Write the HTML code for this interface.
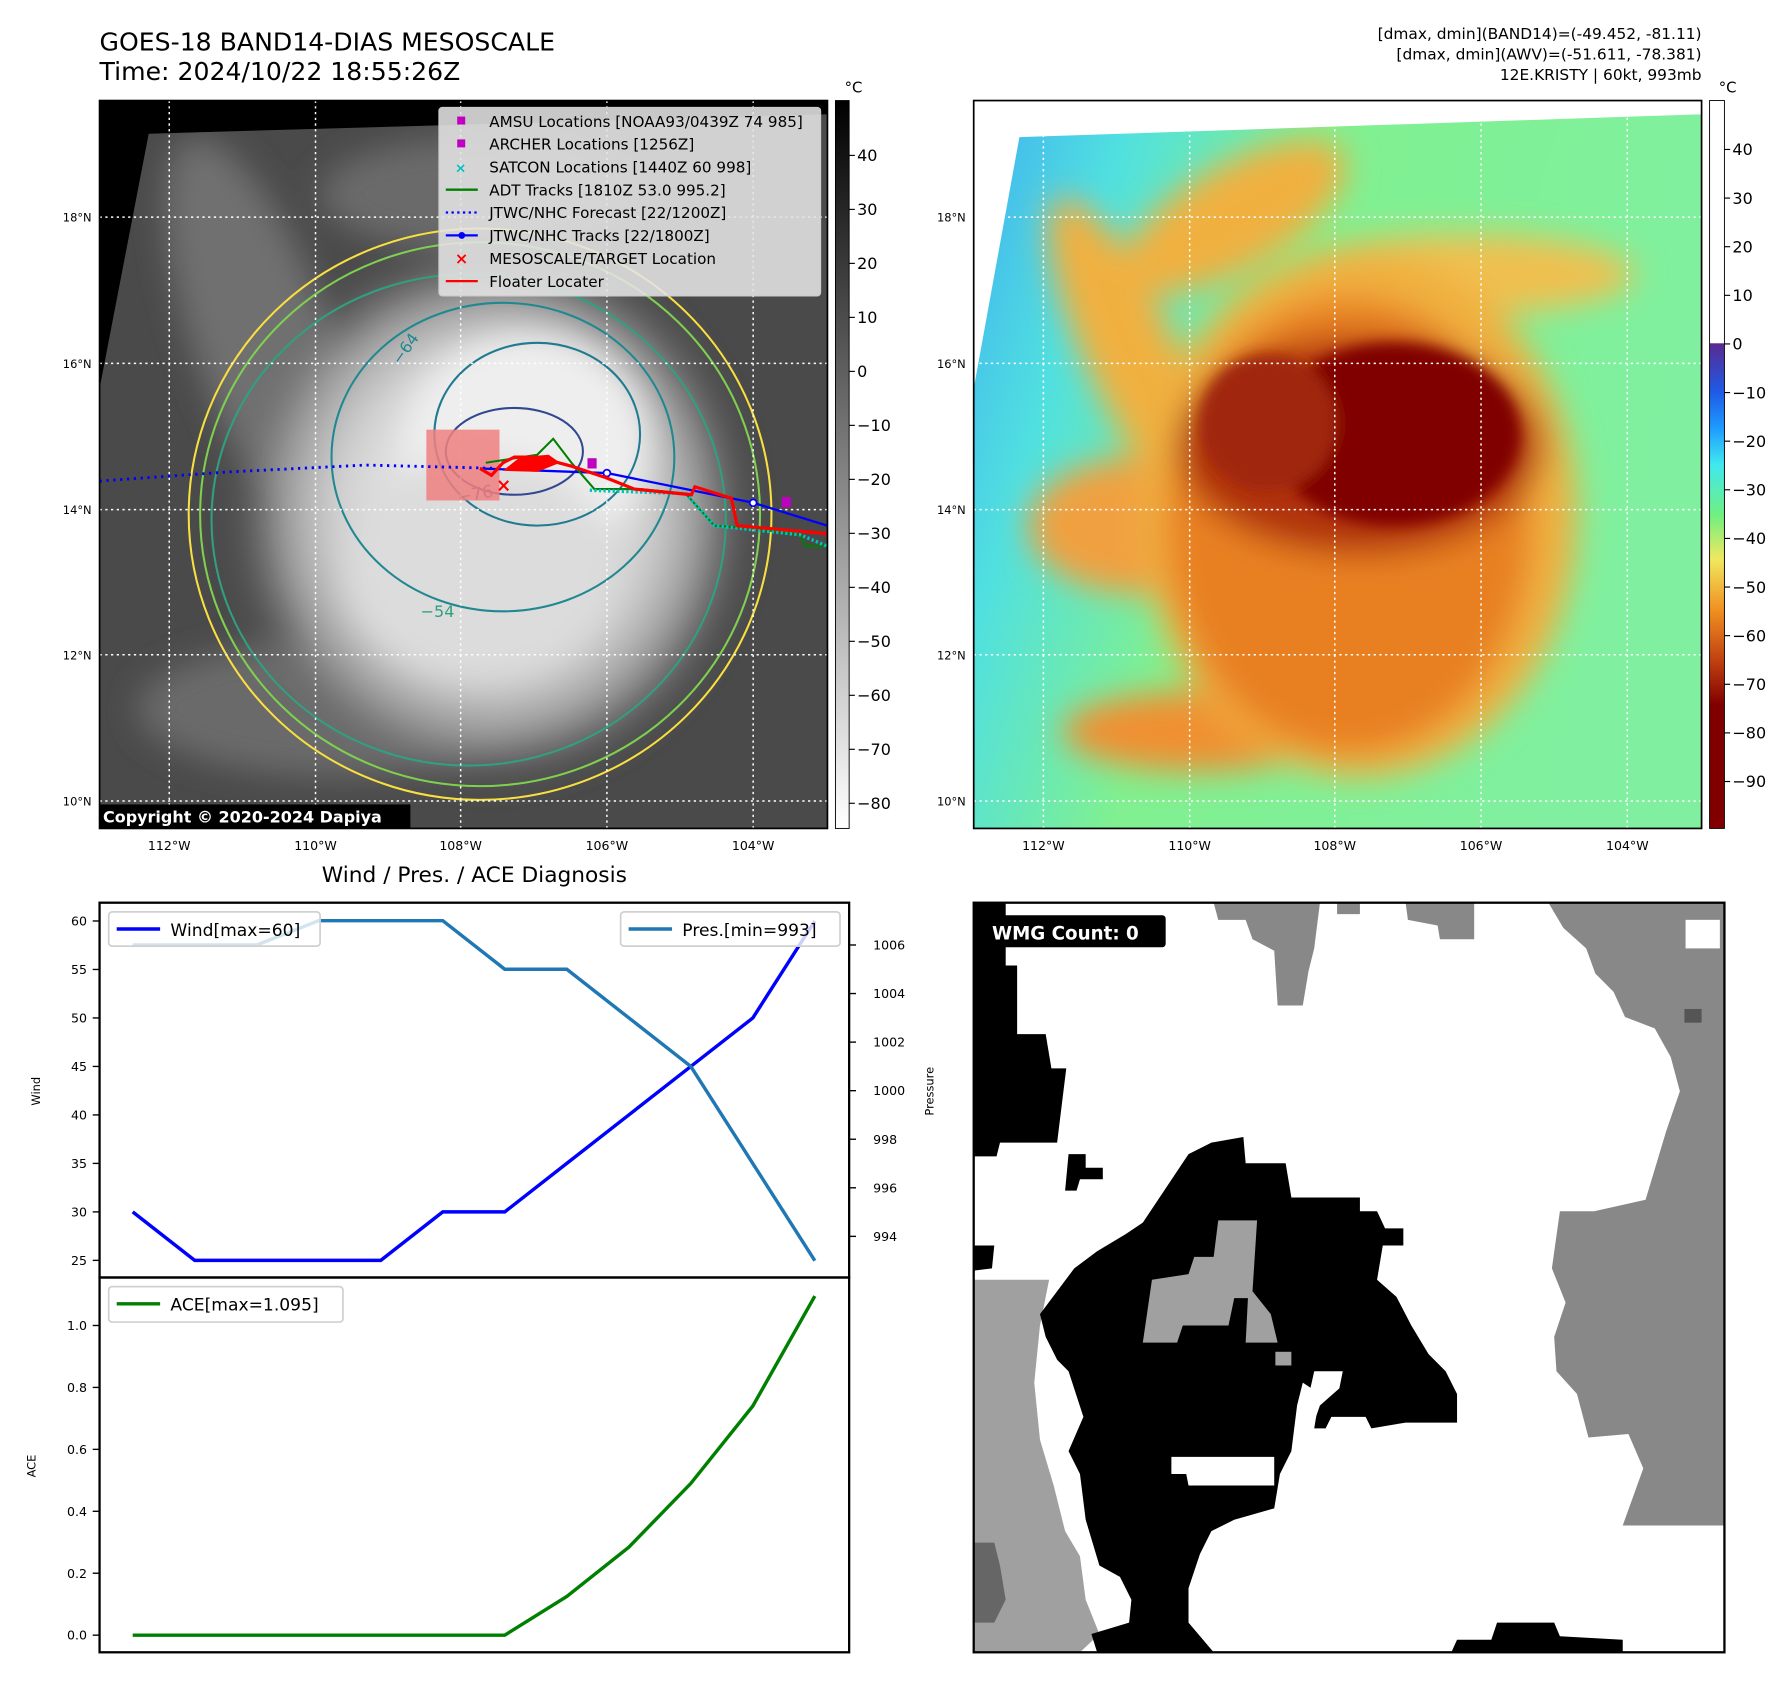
<!DOCTYPE html>
<html><head><meta charset="utf-8">
<style>
html,body{margin:0;padding:0;background:#fff;}
svg{display:block;font-family:"DejaVu Sans","Liberation Sans",sans-serif;}
</style></head>
<body>
<svg id="fig" width="1792" height="1690" viewBox="0 0 1568 1479" xmlns="http://www.w3.org/2000/svg">
<defs>
  <filter id="blur6"><feGaussianBlur stdDeviation="6"/></filter>
  <filter id="blur14"><feGaussianBlur stdDeviation="14"/></filter>
  <clipPath id="clipL"><rect x="87" y="88" width="637" height="637"/></clipPath>
  <clipPath id="clipLs"><polygon points="130,117 724,100 724,725 87,725 87,340"/></clipPath>
  <clipPath id="clipR"><rect x="852" y="88" width="637" height="637"/></clipPath>
  <clipPath id="clipRs"><polygon points="892,120 1489,100 1489,725 852,725 852,340"/></clipPath>
  <clipPath id="clipW"><rect x="852" y="790" width="657" height="656"/></clipPath>
  <radialGradient id="storm" cx="0.5" cy="0.5" r="0.5">
    <stop offset="0" stop-color="#f4f4f4"/><stop offset="0.35" stop-color="#e6e6e6"/>
    <stop offset="0.6" stop-color="#cfcfcf"/><stop offset="0.8" stop-color="#9a9a9a"/>
    <stop offset="1" stop-color="#5a5a5a" stop-opacity="0"/>
  </radialGradient>
  <linearGradient id="cbGray" x1="0" y1="0" x2="0" y2="1">
    <stop offset="0" stop-color="#000"/><stop offset="1" stop-color="#fff"/>
  </linearGradient>
  <linearGradient id="cbColor" x1="0" y1="0" x2="0" y2="1">
    <stop offset="0" stop-color="#fff"/><stop offset="0.333" stop-color="#fff"/>
    <stop offset="0.334" stop-color="#5a2a90"/><stop offset="0.4" stop-color="#1e5ae6"/>
    <stop offset="0.45" stop-color="#1e9bff"/><stop offset="0.5" stop-color="#40e8f0"/>
    <stop offset="0.57" stop-color="#70f080"/><stop offset="0.63" stop-color="#f0e860"/>
    <stop offset="0.7" stop-color="#f09020"/><stop offset="0.77" stop-color="#c04010"/>
    <stop offset="0.83" stop-color="#800000"/><stop offset="1" stop-color="#800000"/>
  </linearGradient>
  <linearGradient id="rbg" x1="0" y1="0" x2="1" y2="0.3">
    <stop offset="0" stop-color="#40b0f0"/><stop offset="0.2" stop-color="#50e0e0"/>
    <stop offset="0.45" stop-color="#80f090"/><stop offset="1" stop-color="#80f0a0"/>
  </linearGradient>
</defs>

<!-- Titles -->
<text x="87" y="44" font-size="22">GOES-18 BAND14-DIAS MESOSCALE</text>
<text x="87" y="70" font-size="22">Time: 2024/10/22 18:55:26Z</text>
<g font-size="13.5" text-anchor="end">
  <text x="1489" y="34">[dmax, dmin](BAND14)=(-49.452, -81.11)</text>
  <text x="1489" y="52">[dmax, dmin](AWV)=(-51.611, -78.381)</text>
  <text x="1489" y="70">12E.KRISTY | 60kt, 993mb</text>
</g>

<!-- LEFT MAP -->
<g clip-path="url(#clipL)">
  <rect x="87" y="88" width="637" height="637" fill="#000"/>
  <g clip-path="url(#clipLs)">
  <rect x="87" y="88" width="637" height="637" fill="#4a4a4a"/>
  <g filter="url(#blur14)">
    <ellipse cx="230" cy="300" rx="60" ry="190" fill="#707070" transform="rotate(-20 230 300)"/>
    <ellipse cx="420" cy="170" rx="140" ry="50" fill="#6a6a6a"/>
    <ellipse cx="300" cy="620" rx="180" ry="60" fill="#6a6a6a"/>
    <ellipse cx="430" cy="450" rx="230" ry="240" fill="url(#storm)"/>
    <ellipse cx="460" cy="390" rx="110" ry="100" fill="#eeeeee"/>
    <ellipse cx="420" cy="500" rx="120" ry="100" fill="#dcdcdc"/>
  </g>
  </g>
  <g fill="none" stroke-width="1.8">
    <ellipse cx="420" cy="450" rx="255" ry="250" stroke="#f8e040" />
    <ellipse cx="420" cy="450" rx="245" ry="238" stroke="#80d050"/>
    <ellipse cx="410" cy="455" rx="225" ry="215" stroke="#30a080"/>
    <ellipse cx="440" cy="400" rx="150" ry="135" stroke="#208890"/>
    <ellipse cx="470" cy="380" rx="90" ry="80" stroke="#207a90"/>
    <ellipse cx="450" cy="395" rx="60" ry="38" stroke="#304890"/>
  </g>
  <text x="400" y="428" font-size="15" fill="#304890" transform="rotate(-10 470 428)">−76</text>
  <text x="368" y="540" font-size="14" fill="#30a080">−54</text>
  <text x="350" y="320" font-size="14" fill="#208890" transform="rotate(-55 350 320)">−64</text>
  <g stroke="#fff" stroke-width="1.3" stroke-dasharray="2,3">
    <line x1="87" y1="190" x2="724" y2="190"/><line x1="87" y1="318" x2="724" y2="318"/>
    <line x1="87" y1="446" x2="724" y2="446"/><line x1="87" y1="573" x2="724" y2="573"/>
    <line x1="87" y1="701" x2="724" y2="701"/>
    <line x1="148" y1="88" x2="148" y2="725"/><line x1="276" y1="88" x2="276" y2="725"/>
    <line x1="403" y1="88" x2="403" y2="725"/><line x1="531" y1="88" x2="531" y2="725"/>
    <line x1="659" y1="88" x2="659" y2="725"/>
  </g>
  <rect x="373" y="376" width="64" height="62" fill="#f08080" opacity="0.85"/>
  <polyline points="87,421 200,413 320,407 440,410" fill="none" stroke="#0000ff" stroke-width="2.5" stroke-dasharray="2,4"/>
  <polyline points="420,410 531,414 659,440 724,460" fill="none" stroke="#0000ff" stroke-width="2"/>
  <g fill="#fff" stroke="#00f" stroke-width="1.5"><circle cx="531" cy="414" r="3"/><circle cx="659" cy="440" r="3"/></g>
  <polyline points="425,405 470,398 484,384 500,405 520,428 560,428 600,432 625,460 655,462 700,468 705,478 724,478" fill="none" stroke="#008000" stroke-width="1.8"/>
  <polyline points="516,429 600,432 625,460 700,468 724,478" fill="none" stroke="#00c0c0" stroke-width="3" stroke-dasharray="2,2"/>
  <polyline points="420,410 430,416 440,405 450,400 470,400 500,408 530,418 555,428 605,433 608,426 640,436 645,460 700,465 724,467" fill="none" stroke="#ff0000" stroke-width="2.8"/>
  <polygon points="440,412 455,400 480,398 490,405 470,413" fill="#ff0000"/>
  <text x="434" y="430" font-size="16" fill="#ff0000" font-weight="bold">×</text>
  <rect x="514" y="401" width="8" height="9" fill="#c000c0"/>
  <rect x="684" y="435" width="8" height="9" fill="#c000c0"/>
</g>
<rect x="87" y="88" width="637" height="637" fill="none" stroke="#000" stroke-width="1.5"/>
<g font-size="13.3">
  <rect x="384" y="94" width="334" height="165" rx="3" fill="#e4e4e4" fill-opacity="0.88" stroke="#ccc"/>
  <rect x="400" y="102" width="7" height="7" fill="#c000c0"/><text x="428" y="111">AMSU Locations [NOAA93/0439Z 74 985]</text>
  <rect x="400" y="122" width="7" height="7" fill="#c000c0"/><text x="428" y="131">ARCHER Locations [1256Z]</text>
  <text x="398" y="151" fill="#00c0c0" font-size="12" font-weight="bold">×</text><text x="428" y="151">SATCON Locations [1440Z 60 998]</text>
  <line x1="390" y1="166" x2="418" y2="166" stroke="#008000" stroke-width="2"/><text x="428" y="171">ADT Tracks [1810Z 53.0 995.2]</text>
  <line x1="390" y1="186" x2="418" y2="186" stroke="#0000ff" stroke-width="2" stroke-dasharray="2,3"/><text x="428" y="191">JTWC/NHC Forecast [22/1200Z]</text>
  <line x1="390" y1="206" x2="418" y2="206" stroke="#0000ff" stroke-width="2"/><circle cx="404" cy="206" r="3" fill="#00f"/><text x="428" y="211">JTWC/NHC Tracks [22/1800Z]</text>
  <text x="398" y="231" fill="#ff0000" font-size="14" font-weight="bold">×</text><text x="428" y="231">MESOSCALE/TARGET Location</text>
  <line x1="390" y1="246" x2="418" y2="246" stroke="#ff0000" stroke-width="2"/><text x="428" y="251">Floater Locater</text>
</g>
<g>
  <rect x="87" y="704" width="272" height="21" fill="#000"/>
  <text x="90" y="720" fill="#fff" font-size="14" font-weight="bold">Copyright © 2020-2024 Dapiya</text>
</g>
<g font-size="10" text-anchor="end">
  <text x="80" y="194">18°N</text><text x="80" y="322">16°N</text><text x="80" y="450">14°N</text><text x="80" y="577">12°N</text><text x="80" y="705">10°N</text>
</g>
<g font-size="11" text-anchor="middle">
  <text x="148" y="744">112°W</text><text x="276" y="744">110°W</text><text x="403" y="744">108°W</text><text x="531" y="744">106°W</text><text x="659" y="744">104°W</text>
</g>
<g>
  <rect x="731" y="88" width="12" height="637" fill="url(#cbGray)" stroke="#000" stroke-width="0.8"/>
  <text x="739" y="81" font-size="13">°C</text>
  <g font-size="14" text-anchor="start" id="cbGrayTicks"></g>
</g>

<!-- RIGHT MAP -->
<g clip-path="url(#clipR)">
  <rect x="852" y="88" width="637" height="637" fill="#fff"/>
  <g clip-path="url(#clipRs)">
  <rect x="852" y="88" width="637" height="637" fill="url(#rbg)"/>
  <g filter="url(#blur14)">
    <ellipse cx="990" cy="310" rx="40" ry="150" fill="#f0b040" transform="rotate(-25 990 310)"/>
    <ellipse cx="1080" cy="190" rx="110" ry="45" fill="#f0b040" transform="rotate(-30 1080 190)"/>
    <ellipse cx="1280" cy="240" rx="150" ry="35" fill="#f0c050"/>
    <ellipse cx="1000" cy="460" rx="100" ry="60" fill="#f0a040"/>
    <ellipse cx="1050" cy="640" rx="120" ry="35" fill="#f09030"/>
    <ellipse cx="1190" cy="450" rx="190" ry="230" fill="#f0b040"/>
    <ellipse cx="1180" cy="460" rx="160" ry="200" fill="#e88020"/>
    <ellipse cx="1190" cy="390" rx="160" ry="95" fill="#b03008"/>
  </g>
  <g filter="url(#blur6)">
    <ellipse cx="1220" cy="380" rx="110" ry="80" fill="#800000"/>
    <ellipse cx="1110" cy="370" rx="60" ry="60" fill="#a02808"/>
  </g>
  </g>
  <g stroke="#fff" stroke-width="1.3" stroke-dasharray="2,3">
    <line x1="852" y1="190" x2="1489" y2="190"/><line x1="852" y1="318" x2="1489" y2="318"/>
    <line x1="852" y1="446" x2="1489" y2="446"/><line x1="852" y1="573" x2="1489" y2="573"/>
    <line x1="852" y1="701" x2="1489" y2="701"/>
    <line x1="913" y1="88" x2="913" y2="725"/><line x1="1041" y1="88" x2="1041" y2="725"/>
    <line x1="1168" y1="88" x2="1168" y2="725"/><line x1="1296" y1="88" x2="1296" y2="725"/>
    <line x1="1424" y1="88" x2="1424" y2="725"/>
  </g>
</g>
<rect x="852" y="88" width="637" height="637" fill="none" stroke="#000" stroke-width="1.5"/>
<g font-size="10" text-anchor="end">
  <text x="845" y="194">18°N</text><text x="845" y="322">16°N</text><text x="845" y="450">14°N</text><text x="845" y="577">12°N</text><text x="845" y="705">10°N</text>
</g>
<g font-size="11" text-anchor="middle">
  <text x="913" y="744">112°W</text><text x="1041" y="744">110°W</text><text x="1168" y="744">108°W</text><text x="1296" y="744">106°W</text><text x="1424" y="744">104°W</text>
</g>
<g>
  <rect x="1496" y="88" width="13" height="637" fill="url(#cbColor)" stroke="#000" stroke-width="0.8"/>
  <text x="1504" y="81" font-size="13">°C</text>
  <g font-size="14" id="cbColorTicks"></g>
</g>

<!-- DIAGNOSIS CHART -->
<text x="415" y="772" font-size="19" text-anchor="middle">Wind / Pres. / ACE Diagnosis</text>
<g id="windPanel"></g>
<g id="acePanel"></g>
<rect x="87" y="790" width="656" height="328" fill="none" stroke="#000" stroke-width="2"/>
<rect x="87" y="1118" width="656" height="328" fill="none" stroke="#000" stroke-width="2"/>
<text x="35" y="955" font-size="10" text-anchor="middle" transform="rotate(-90 35 955)">Wind</text>
<text x="817" y="955" font-size="10" text-anchor="middle" transform="rotate(-90 817 955)">Pressure</text>
<text x="31" y="1283" font-size="10" text-anchor="middle" transform="rotate(-90 31 1283)">ACE</text>
<g>
  <rect x="95" y="798" width="185" height="30" rx="3" fill="#fff" fill-opacity="0.8" stroke="#d0d0d0" stroke-width="1.5"/>
  <line x1="102" y1="813" x2="140" y2="813" stroke="#0000ff" stroke-width="3"/>
  <text x="149" y="819" font-size="15">Wind[max=60]</text>
</g>
<g>
  <rect x="543" y="798" width="192" height="30" rx="3" fill="#fff" fill-opacity="0.8" stroke="#d0d0d0" stroke-width="1.5"/>
  <line x1="550" y1="813" x2="588" y2="813" stroke="#1f77b4" stroke-width="3"/>
  <text x="597" y="819" font-size="15">Pres.[min=993]</text>
</g>
<g>
  <rect x="95" y="1126" width="205" height="31" rx="3" fill="#fff" fill-opacity="0.8" stroke="#d0d0d0" stroke-width="1.5"/>
  <line x1="102" y1="1141" x2="140" y2="1141" stroke="#008000" stroke-width="3"/>
  <text x="149" y="1147" font-size="15">ACE[max=1.095]</text>
</g>

<!-- WMG PANEL -->
<g clip-path="url(#clipW)">
  <rect x="852" y="790" width="657" height="656" fill="#fff"/>
  <polygon fill="#888" points="1355,790 1509,790 1509,1335 1420,1335 1438,1285 1425,1255 1390,1258 1380,1220 1362,1200 1360,1170 1370,1140 1358,1110 1365,1060 1395,1060 1440,1050 1458,990 1470,955 1462,925 1448,900 1422,890 1412,868 1396,852 1388,830 1368,812"/>
  <rect x="1475" y="805" width="30" height="25" fill="#fff"/>
  <rect x="1474" y="883" width="15" height="12" fill="#555"/>
  <polygon fill="#888" points="1062,790 1155,790 1150,830 1145,850 1140,880 1118,880 1115,832 1096,822 1090,805 1066,805"/>
  <polygon fill="#888" points="1170,790 1190,790 1190,800 1170,800"/>
  <polygon fill="#888" points="1230,790 1290,790 1290,822 1260,822 1258,810 1232,805"/>
  <polygon fill="#000" points="852,790 880,790 880,845 890,845 890,905 915,905 920,935 933,935 925,1000 875,1000 872,1012 852,1012"/>
  <polygon fill="#000" points="935,1010 950,1010 950,1022 965,1022 965,1032 945,1032 942,1042 932,1042"/>
  <polygon fill="#a0a0a0" points="852,1120 918,1120 910,1160 905,1210 910,1260 922,1300 932,1340 945,1362 950,1400 962,1430 945,1446 852,1446"/>
  <polygon fill="#000" points="1060,1000 1088,995 1090,1018 1125,1018 1130,1048 1190,1048 1190,1060 1205,1060 1212,1075 1228,1075 1228,1090 1210,1090 1205,1120 1222,1135 1235,1160 1250,1185 1265,1200 1275,1220 1275,1245 1230,1245 1200,1250 1195,1240 1165,1240 1160,1250 1150,1250 1155,1220 1140,1210 1135,1230 1130,1270 1120,1290 1115,1320 1080,1330 1060,1340 1050,1360 1040,1390 1040,1420 1062,1446 960,1446 955,1430 988,1420 990,1400 980,1380 962,1370 950,1330 945,1290 935,1270 948,1240 935,1200 925,1190 915,1170 910,1150 925,1130 940,1110 960,1095 985,1080 1000,1070 1020,1040 1040,1010"/>
  <polygon fill="#000" points="852,1090 870,1090 868,1110 852,1112"/>
  <polygon fill="#a0a0a0" points="1000,1175 1008,1120 1040,1115 1045,1100 1062,1100 1066,1068 1100,1068 1096,1130 1112,1150 1118,1175 1090,1175 1092,1136 1080,1136 1075,1160 1035,1160 1030,1175"/>
  <rect x="1116" y="1183" width="14" height="12" fill="#a0a0a0"/>
  <polygon fill="#fff" points="1025,1275 1115,1275 1115,1300 1040,1300 1038,1290 1025,1290"/>
  <polygon fill="#fff" points="1150,1200 1175,1200 1172,1215 1155,1230 1148,1250 1140,1245"/>
  <polygon fill="#666" points="852,1350 870,1350 875,1370 880,1400 870,1420 852,1420"/>
  <polygon fill="#000" points="1270,1446 1275,1435 1305,1435 1310,1420 1360,1420 1365,1432 1420,1435 1420,1446"/>
</g>
<rect x="852" y="790" width="657" height="656" fill="none" stroke="#000" stroke-width="2"/>
<g>
  <rect x="862" y="801" width="158" height="28" rx="3" fill="#000"/>
  <text x="868" y="822" fill="#fff" font-size="16" font-weight="bold">WMG Count: 0</text>
</g>
</svg>

<script>
// ---- chart data ----
const timeIndex = [0,1,2,3,4,5,6,7,8,9,10,11];
const windValues = [30,25,25,25,25,30,30,35,40,45,50,60];
const pressureValues = [1006,1006,1006,1007,1007,1007,1005,1005,1003,1001,997,993];
const aceValues = [0,0,0,0,0,0,0,0.125,0.284,0.49,0.74,1.095];
const windTicks = [25,30,35,40,45,50,55,60];
const pressureTicks = [994,996,998,1000,1002,1004,1006];
const aceTicks = [0.0,0.2,0.4,0.6,0.8,1.0];
const aceTickLabels = ["0.0","0.2","0.4","0.6","0.8","1.0"];
const grayCbTicks = [40,30,20,10,0,-10,-20,-30,-40,-50,-60,-70,-80];
const colorCbTicks = [40,30,20,10,0,-10,-20,-30,-40,-50,-60,-70,-80,-90];

const NS = "http://www.w3.org/2000/svg";
function xScale(i){ return 116 + i*54.27; }
function windY(v){ return 806 + (60 - v)*8.486; }
function presY(v){ return 827 + (1006 - v)*21.25; }
function aceY(v){ return 1431 - v*271; }
function grayCbY(v){ return 136 + (40 - v)*4.725; }
function colorCbY(v){ return 301 + (0 - v)*4.255; }

function mk(tag, attrs, parent){
  const e = document.createElementNS(NS, tag);
  for (const k in attrs) e.setAttribute(k, attrs[k]);
  parent.appendChild(e);
  return e;
}
function fmtMinus(v){ return v < 0 ? "\u2212" + Math.abs(v) : String(v); }

const windPanel = document.getElementById("windPanel");
const acePanel = document.getElementById("acePanel");

windTicks.forEach(v => {
  const y = windY(v);
  const t = mk("line", {x1:81, x2:87, y1:y, y2:y, stroke:"#000", "stroke-width":1.2}, windPanel);
  
  
  const l = mk("text", {x:76, y:y+4, "font-size":11, "text-anchor":"end"}, windPanel);
  l.textContent = v;
  
  
});
pressureTicks.forEach(v => {
  const y = presY(v);
  const t = mk("line", {x1:743, x2:749, y1:y, y2:y, stroke:"#000", "stroke-width":1.2}, windPanel);
  
  
  const l = mk("text", {x:764, y:y+4, "font-size":11}, windPanel);
  l.textContent = v;
  
  
});
aceTicks.forEach((v, k) => {
  const y = aceY(v);
  const t = mk("line", {x1:81, x2:87, y1:y, y2:y, stroke:"#000", "stroke-width":1.2}, acePanel);
  
  
  const l = mk("text", {x:76, y:y+4, "font-size":11, "text-anchor":"end"}, acePanel);
  l.textContent = aceTickLabels[k];
  
  
});

const windLine = mk("polyline", {points: timeIndex.map(i => xScale(i)+","+windY(windValues[i])).join(" "), fill:"none", stroke:"#0000ff", "stroke-width":3}, windPanel);


const presLine = mk("polyline", {points: timeIndex.map(i => xScale(i)+","+presY(pressureValues[i])).join(" "), fill:"none", stroke:"#1f77b4", "stroke-width":3}, windPanel);


const aceLine = mk("polyline", {points: timeIndex.map(i => xScale(i)+","+aceY(aceValues[i])).join(" "), fill:"none", stroke:"#008000", "stroke-width":3}, acePanel);



const g1 = document.getElementById("cbGrayTicks");
grayCbTicks.forEach(v => {
  const y = grayCbY(v);
  mk("line", {x1:743, x2:748, y1:y, y2:y, stroke:"#000"}, g1);
  const l = mk("text", {x:750, y:y+5}, g1);
  l.textContent = fmtMinus(v);
  
  
});
const g2 = document.getElementById("cbColorTicks");
colorCbTicks.forEach(v => {
  const y = colorCbY(v);
  mk("line", {x1:1509, x2:1514, y1:y, y2:y, stroke:"#000"}, g2);
  const l = mk("text", {x:1516, y:y+5}, g2);
  l.textContent = fmtMinus(v);
  
  
});
</script>
</body></html>
